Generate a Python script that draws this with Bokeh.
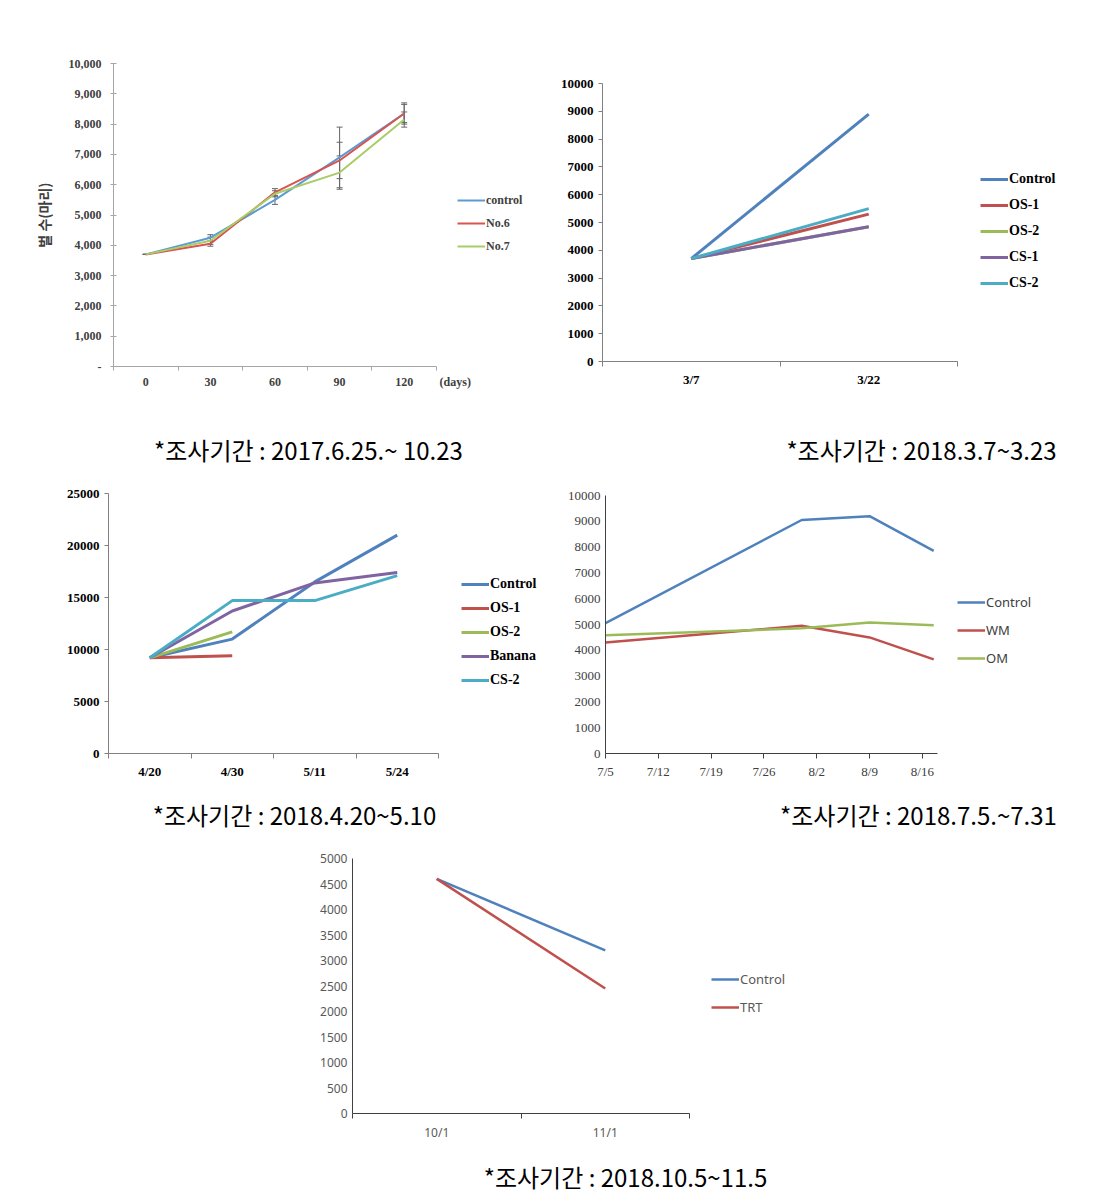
from bokeh.plotting import figure
from bokeh.models import (Range1d, FixedTicker, Legend, LegendItem, Whisker, LinearAxis,
                          ColumnDataSource, TeeHead, Spacer)
from bokeh.layouts import column, row
from bokeh.embed import file_html
from bokeh.resources import INLINE
from bokeh.core.properties import value

# ---------------- data ----------------
# Chart 1 (2017)
c1_x_labels = ["0", "30", "60", "90", "120"]
c1_unit_label = "(days)"
c1_control = [3700, 4250, 5500, 6900, 8350]
c1_no6 = [3700, 4050, 5750, 6800, 8350]
c1_no7 = [3700, 4150, 5700, 6400, 8150]
c1_control_err = [0, 100, 150, 1000, 350]
c1_no6_err = [0, 80, 120, 600, 300]
c1_no7_err = [0, 120, 100, 550, 250]
c1_y_ticks = [0, 1000, 2000, 3000, 4000, 5000, 6000, 7000, 8000, 9000, 10000]

# Chart 2 (2018.3)
c2_x_labels = ["3/7", "3/22"]
c2_control = [3700, 8900]
c2_os1 = [3700, 5300]
c2_os2 = [3700, 4850]
c2_cs1 = [3700, 4850]
c2_cs2 = [3700, 5500]
c2_y_ticks = [0, 1000, 2000, 3000, 4000, 5000, 6000, 7000, 8000, 9000, 10000]

# Chart 3 (2018.4)
c3_x_labels = ["4/20", "4/30", "5/11", "5/24"]
c3_control = [9200, 11000, 16500, 21000]
c3_os1 = [9200, 9400]
c3_os2 = [9200, 11700]
c3_banana = [9200, 13700, 16400, 17400]
c3_cs2 = [9200, 14700, 14700, 17100]
c3_y_ticks = [0, 5000, 10000, 15000, 20000, 25000]

# Chart 4 (2018.7)
c4_tick_labels = ["7/5", "7/12", "7/19", "7/26", "8/2", "8/9", "8/16"]
c4_tick_days = [0, 7, 14, 21, 28, 35, 42]
c4_days = [0, 26, 35, 43.5]
c4_control = [5050, 9050, 9200, 7850]
c4_wm = [4300, 4950, 4500, 3650]
c4_om = [4580, 4850, 5080, 4970]
c4_y_ticks = [0, 1000, 2000, 3000, 4000, 5000, 6000, 7000, 8000, 9000, 10000]

# Chart 5 (2018.10)
c5_x_labels = ["10/1", "11/1"]
c5_control = [4600, 3200]
c5_trt = [4600, 2450]
c5_y_ticks = [0, 500, 1000, 1500, 2000, 2500, 3000, 3500, 4000, 4500, 5000]

captions = ["*조사기간 : 2017.6.25.~ 10.23", "*조사기간 : 2018.3.7~3.23",
            "*조사기간 : 2018.4.20~5.10", "*조사기간 : 2018.7.5.~7.31",
            "*조사기간 : 2018.10.5~11.5"]

BLUE = "#4F81BD"; RED = "#C0504D"; GREEN = "#9BBB59"; PURPLE = "#8064A2"; CYAN = "#4BACC6"
SERIF = "Liberation Serif"; SANS = "Noto Sans"


def make_fig(left, fw, right, top, fh, bottom, x0, x1, axis_px, ymax):
    # frame extends past the x-axis end so the legend fits inside; axis line is bounded
    x_end = x0 + (x1 - x0) * fw / axis_px
    p = figure(width=left + fw + right, height=top + fh + bottom,
               min_border_left=left, min_border_right=right,
               min_border_top=top, min_border_bottom=bottom,
               x_range=Range1d(x0, x_end), y_range=Range1d(0, ymax),
               output_backend="svg", toolbar_location=None, tools="")
    p.outline_line_color = None
    p.grid.visible = False
    p.background_fill_color = "white"
    p.border_fill_color = "white"
    p.xaxis[0].bounds = (x0, x1)
    return p


def style_axes(p, font, size, style, color, axis_color, ytick_out, ytick_in=0):
    for ax in (p.xaxis[0], p.yaxis[0]):
        ax.major_label_text_font = font
        ax.major_label_text_font_size = size
        ax.major_label_text_font_style = style
        ax.major_label_text_color = color
        ax.axis_line_color = axis_color
        ax.major_tick_line_color = axis_color
        ax.minor_tick_line_color = axis_color
    p.yaxis[0].major_tick_out = ytick_out
    p.yaxis[0].major_tick_in = ytick_in
    p.yaxis[0].minor_tick_line_color = None


def cat_xaxis(p, labels):
    n = len(labels)
    ax = p.xaxis[0]
    ax.ticker = FixedTicker(ticks=list(range(n)), minor_ticks=[i - 0.5 for i in range(n + 1)])
    ax.major_label_overrides = {i: l for i, l in enumerate(labels)}
    ax.major_tick_out = 0
    ax.major_tick_in = 0
    ax.minor_tick_out = 5
    ax.minor_tick_in = 0


def add_legend(p, items, x, y, font, size, style, color, gh, spacing):
    leg = Legend(items=[LegendItem(label=l, renderers=[r]) for l, r in items],
                 location=(x, y), orientation="vertical", glyph_width=28, glyph_height=gh,
                 label_height=gh, label_standoff=1, spacing=spacing, padding=0, margin=0,
                 border_line_color=None, background_fill_alpha=0,
                 label_text_font=font, label_text_font_size=size,
                 label_text_font_style=style, label_text_color=color)
    p.add_layout(leg)


# ---------------- chart 1 ----------------
n1 = len(c1_x_labels)
p1 = make_fig(113, 430, 5, 63, 303, 54, -0.5, n1 - 0.5, 323, 10000)
style_axes(p1, SERIF, "12px", "bold", "#404040", "#A6A6A6", 3, 3)
p1.xaxis[0].ticker = FixedTicker(ticks=[], minor_ticks=[i - 0.5 for i in range(n1 + 1)])
p1.xaxis[0].major_tick_out = 0
p1.xaxis[0].major_tick_in = 0
p1.xaxis[0].minor_tick_out = 4
p1.xaxis[0].minor_tick_in = 0
p1.xaxis[0].major_label_standoff = 0
lab_ax = LinearAxis(ticker=FixedTicker(ticks=list(range(n1)) + [n1 - 0.21], minor_ticks=[]),
                    major_label_overrides={**{i: l for i, l in enumerate(c1_x_labels)},
                                           n1 - 0.21: c1_unit_label},
                    axis_line_color=None, major_tick_line_color=None, minor_tick_line_color=None,
                    major_tick_out=0, major_tick_in=0, major_label_standoff=4,
                    major_label_text_font=SERIF, major_label_text_font_style="bold",
                    major_label_text_font_size="12px", major_label_text_color="#404040")
p1.add_layout(lab_ax, "below")
p1.yaxis[0].ticker = FixedTicker(ticks=c1_y_ticks)
p1.yaxis[0].major_label_overrides = {t: ("-" if t == 0 else f"{t:,}") for t in c1_y_ticks}
p1.yaxis[0].major_label_standoff = 9
p1.yaxis[0].axis_label = "벌 수(마리)"
p1.yaxis[0].axis_label_text_font = "Noto Sans CJK KR"
p1.yaxis[0].axis_label_text_font_style = "bold"
p1.yaxis[0].axis_label_text_font_size = "14px"
p1.yaxis[0].axis_label_text_color = "#404040"
p1.yaxis[0].axis_label_standoff = 12
xs1 = list(range(n1))
c1_series = [("control", c1_control, c1_control_err, "#5B9BD5"),
             ("No.6", c1_no6, c1_no6_err, "#D9534F"),
             ("No.7", c1_no7, c1_no7_err, "#A9CC66")]
r1 = []
for name, ys, err, col in c1_series:
    r = p1.line(xs1, ys, line_color=col, line_width=2)
    r1.append((name, r))
    src = ColumnDataSource(dict(x=xs1, up=[v + e for v, e in zip(ys, err)],
                                lo=[v - e for v, e in zip(ys, err)]))
    w = Whisker(source=src, base="x", upper="up", lower="lo", line_color="#666666", line_width=1,
                upper_head=TeeHead(size=6, line_color="#666666"),
                lower_head=TeeHead(size=6, line_color="#666666"))
    p1.add_layout(w)
add_legend(p1, r1, 344, 112, SERIF, "12px", "bold", "#404040", 16, 7)

# ---------------- chart 2 ----------------
n2 = len(c2_x_labels)
p2 = make_fig(54, 511, 4, 83, 278, 59, -0.5, n2 - 0.5, 355, 10000)
style_axes(p2, SERIF, "13px", "bold", "black", "#808080", 4)
cat_xaxis(p2, c2_x_labels)
p2.yaxis[0].ticker = FixedTicker(ticks=c2_y_ticks)
xs2 = list(range(n2))
r2 = []
for name, ys, col in [("Control", c2_control, BLUE), ("OS-1", c2_os1, RED), ("OS-2", c2_os2, GREEN),
                      ("CS-1", c2_cs1, PURPLE), ("CS-2", c2_cs2, CYAN)]:
    r2.append((name, p2.line(xs2, ys, line_color=col, line_width=3)))
add_legend(p2, r2, 378, 70, SERIF, "14px", "bold", "black", 16, 10)

# ---------------- chart 3 ----------------
n3 = len(c3_x_labels)
p3 = make_fig(108, 435, 5, 17, 260, 37, -0.5, n3 - 0.5, 330, 25000)
style_axes(p3, SERIF, "13px", "bold", "black", "#808080", 4)
cat_xaxis(p3, c3_x_labels)
p3.yaxis[0].ticker = FixedTicker(ticks=c3_y_ticks)
r3 = []
for name, ys, col in [("Control", c3_control, BLUE), ("OS-1", c3_os1, RED), ("OS-2", c3_os2, GREEN),
                      ("Banana", c3_banana, PURPLE), ("CS-2", c3_cs2, CYAN)]:
    r3.append((name, p3.line(list(range(len(ys))), ys, line_color=col, line_width=3)))
add_legend(p3, r3, 353, 65, SERIF, "14px", "bold", "black", 16, 8)

# ---------------- chart 4 ----------------
p4 = make_fig(57, 508, 4, 19, 258, 37, 0, 44, 332, 10000)
style_axes(p4, SERIF, "13px", "normal", "#404040", "#404040", 0)
p4.xaxis[0].ticker = FixedTicker(ticks=c4_tick_days, minor_ticks=[])
p4.xaxis[0].major_label_overrides = {d: l for d, l in zip(c4_tick_days, c4_tick_labels)}
p4.xaxis[0].major_tick_out = 5
p4.xaxis[0].major_tick_in = 0
p4.yaxis[0].ticker = FixedTicker(ticks=c4_y_ticks)
r4 = []
for name, ys, col in [("Control", c4_control, BLUE), ("WM", c4_wm, RED), ("OM", c4_om, GREEN)]:
    r4.append((name, p4.line(c4_days, ys, line_color=col, line_width=2.5)))
add_legend(p4, r4, 352, 86, SANS, "13px", "normal", "#404040", 16, 10)

# ---------------- chart 5 ----------------
n5 = len(c5_x_labels)
p5 = make_fig(56, 448, 4, 18, 255, 37, -0.5, n5 - 0.5, 337, 5000)
style_axes(p5, SANS, "12px", "normal", "#595959", "#404040", 0)
cat_xaxis(p5, c5_x_labels)
p5.yaxis[0].ticker = FixedTicker(ticks=c5_y_ticks)
xs5 = list(range(n5))
r5 = []
for name, ys, col in [("Control", c5_control, BLUE), ("TRT", c5_trt, RED)]:
    r5.append((name, p5.line(xs5, ys, line_color=col, line_width=2.5)))
add_legend(p5, r5, 359, 97, SANS, "13px", "normal", "#595959", 16, 10)


# ---------------- captions ----------------
def caption_fig(h, texts, xs, y):
    c = figure(width=1110, height=h, x_range=Range1d(0, 1110), y_range=Range1d(0, h),
               x_axis_type=None, y_axis_type=None, output_backend="svg",
               toolbar_location=None, tools="", min_border=0)
    c.outline_line_color = None
    c.grid.visible = False
    c.text(x=xs, y=[y] * len(xs), text=texts, text_font=value("Noto Sans CJK KR"),
           text_font_size="24px", text_color="black", text_align="center",
           text_baseline="middle")
    return c


cap1 = caption_fig(56, captions[0:2], [308, 921], 27)
cap2 = caption_fig(50, captions[2:4], [294, 918], 26)
cap3 = caption_fig(43, captions[4:5], [625], 17)

layout = column(row(column(p1), column(p2)), cap1, row(column(p3), column(p4)), cap2,
                row(Spacer(width=296, height=310), column(p5)), cap3)

open("out.html", "w").write(file_html(layout, INLINE))
